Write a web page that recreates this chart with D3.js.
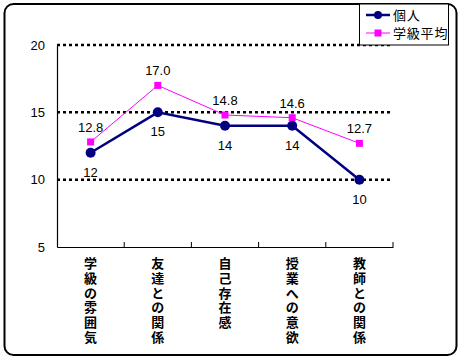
<!DOCTYPE html>
<html><head><meta charset="utf-8">
<script src="https://cdn.jsdelivr.net/npm/d3@7"></script>
<style>body{margin:0;background:#fff}svg{display:block}</style>
</head><body>
<svg id="c" width="462" height="362"></svg>
<script>
const categories = ["学級の雰囲気","友達との関係","自己存在感","授業への意欲","教師との関係"];
const personal = [12, 15, 14, 14, 10];
const classAvg = [12.8, 17.0, 14.8, 14.6, 12.7];
const yTicks = [5, 10, 15, 20];
const seriesNames = ["個人", "学級平均"];

const svg = d3.select("#c");
const numFont = "'Liberation Sans', Arial, sans-serif";
const jpFont = "'Noto Sans CJK JP', sans-serif";

// outer frame
svg.append("rect").attr("x", 4.5).attr("y", 4).attr("width", 452).attr("height", 351)
  .attr("rx", 9).attr("fill", "none").attr("stroke", "#000").attr("stroke-width", 2);

const x0 = 57, x1 = 393, yTop = 45, yBot = 247;
const x = d3.scaleBand().domain(categories).range([x0, x1]);
const y = d3.scaleLinear().domain([5, 20]).range([yBot, yTop]);

// gridlines
svg.append("g").selectAll("line").data(yTicks.filter(t => t > 5)).join("line")
  .attr("x1", x0).attr("x2", x1).attr("y1", d => y(d)).attr("y2", d => y(d))
  .attr("stroke", "#000").attr("stroke-width", 2.5).attr("stroke-dasharray", "3,3");

// y axis
const yAxis = d3.axisLeft(y).tickValues(yTicks).tickSize(0).tickPadding(12);
const gy = svg.append("g").attr("transform", `translate(${x0},0)`).call(yAxis);
gy.select(".domain").attr("stroke", "#000").attr("stroke-width", 1.2);
gy.selectAll("text").attr("font-family", numFont).attr("font-size", 13).attr("fill", "#000");

// x axis
const gx = svg.append("g").attr("transform", `translate(0,${yBot})`)
  .call(d3.axisBottom(x).tickValues([]).tickSizeOuter(0));
gx.select(".domain").attr("stroke", "#000").attr("stroke-width", 1.2);
const bounds = categories.map(c => x(c) + x.bandwidth());
svg.append("g").selectAll("line").data(bounds).join("line")
  .attr("x1", d => d).attr("x2", d => d).attr("y1", yBot - 5).attr("y2", yBot)
  .attr("stroke", "#000").attr("stroke-width", 1);

// category labels (vertical, one char per text)
const cg = svg.append("g");
categories.forEach(c => {
  Array.from(c).forEach((ch, i) => {
    cg.append("text").attr("font-family", jpFont).attr("font-weight", "bold")
      .attr("font-size", 13).attr("text-anchor", "middle").attr("fill", "#000")
      .attr("x", x(c) + x.bandwidth() / 2).attr("y", 268 + i * 14.8).text(ch);
  });
});

const cx = (d, i) => x(categories[i]) + x.bandwidth() / 2;

// class average line
svg.append("path").datum(classAvg)
  .attr("d", d3.line().x(cx).y(d => y(d)))
  .attr("fill", "none").attr("stroke", "#ff00ff").attr("stroke-width", 1);
svg.append("g").selectAll("rect").data(classAvg).join("rect")
  .attr("x", (d, i) => cx(d, i) - 3.5).attr("y", d => y(d) - 3.5)
  .attr("width", 7).attr("height", 7).attr("fill", "#ff00ff");

// personal line
svg.append("path").datum(personal)
  .attr("d", d3.line().x(cx).y(d => y(d)))
  .attr("fill", "none").attr("stroke", "#000080").attr("stroke-width", 2.5);
svg.append("g").selectAll("circle").data(personal).join("circle")
  .attr("cx", cx).attr("cy", d => y(d)).attr("r", 5).attr("fill", "#000080");

// data labels
svg.append("g").selectAll("text").data(classAvg).join("text")
  .attr("x", cx).attr("y", d => y(d) - 10).attr("text-anchor", "middle")
  .attr("font-family", numFont).attr("font-size", 13).attr("fill", "#000")
  .text(d => d.toFixed(1));
svg.append("g").selectAll("text").data(personal).join("text")
  .attr("x", cx).attr("y", d => y(d) + 24).attr("text-anchor", "middle")
  .attr("font-family", numFont).attr("font-size", 13).attr("fill", "#000")
  .text(d => d);

// legend
svg.append("rect").attr("x", 359.5).attr("y", 4).attr("width", 89).attr("height", 41)
  .attr("fill", "#fff").attr("stroke", "#000").attr("stroke-width", 1);
const lg = svg.append("g");
[0, 1].forEach(i => {
  const ly = 15 + i * 18;
  lg.append("line").attr("x1", 366).attr("x2", 390).attr("y1", ly).attr("y2", ly)
    .attr("stroke", i === 0 ? "#000080" : "#ff00ff").attr("stroke-width", i === 0 ? 2.5 : 1);
  if (i === 0) lg.append("circle").attr("cx", 378).attr("cy", ly).attr("r", 4).attr("fill", "#000080");
  else lg.append("rect").attr("x", 374.5).attr("y", ly - 3.5).attr("width", 7).attr("height", 7).attr("fill", "#ff00ff");
  lg.append("text").attr("x", 393).attr("y", ly + 5).attr("font-family", jpFont)
    .attr("font-size", 13).attr("letter-spacing", 0.8).attr("fill", "#000").text(seriesNames[i]);
});
</script>
</body></html>
